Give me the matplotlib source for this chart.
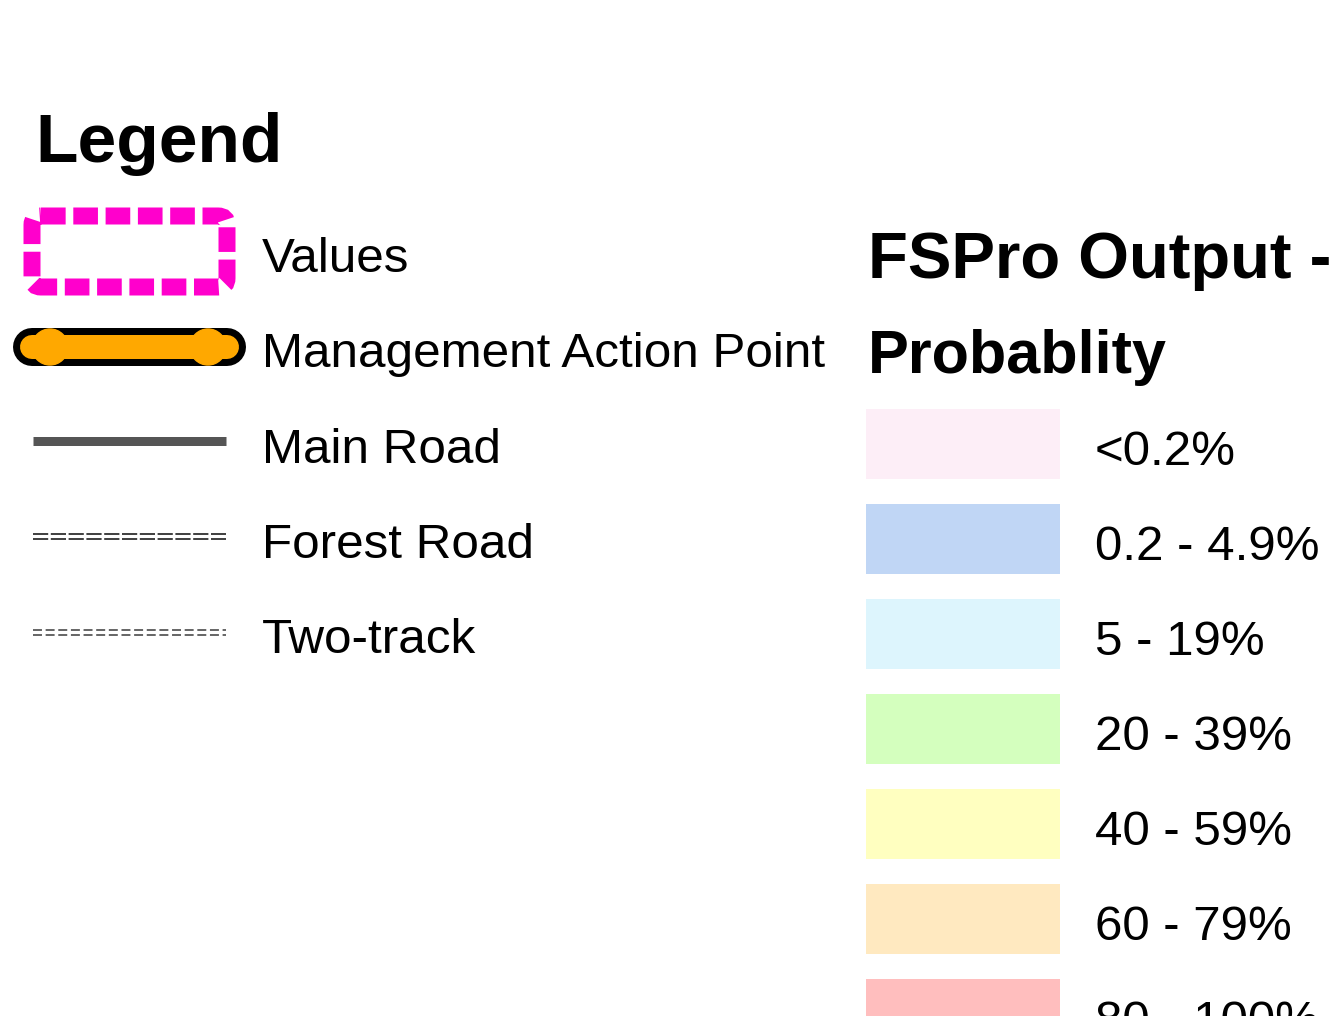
import matplotlib
matplotlib.use("Agg")
import matplotlib.pyplot as plt
from matplotlib.patches import FancyBboxPatch, Rectangle, Circle

plt.rcParams['font.family'] = ['Liberation Sans', 'DejaVu Sans']

legend_title = "Legend"
line_labels = ["Values", "Management Action Point", "Main Road", "Forest Road", "Two-track"]
prob_title = ["FSPro Output -", "Probablity"]
prob_labels = ["<0.2%", "0.2 - 4.9%", "5 - 19%", "20 - 39%", "40 - 59%", "60 - 79%", "80 - 100%"]
prob_colors = ["#FDEEF7", "#C0D6F5", "#DDF5FD", "#D4FFBE", "#FFFFC0", "#FFE9C0", "#FFBEBE"]

W, H = 1340, 1016
fig = plt.figure(figsize=(W / 100, H / 100), dpi=100)
ax = fig.add_axes([0, 0, 1, 1])
ax.set_xlim(0, W)
ax.set_ylim(H, 0)
ax.axis('off')
PT = 0.72  # px -> pt

ax.text(35, 162, legend_title, fontsize=50, fontweight='bold', ha='left', va='baseline')

# Left symbols
row_base = [272, 367, 463, 558, 653]
# Values: dashed rounded rectangle
box = FancyBboxPatch((32, 216), 195, 71, boxstyle="round,pad=0,rounding_size=9",
                     fill=False, edgecolor="#FF00CC", linewidth=17 * PT,
                     linestyle=(0, (1.45, 0.45)))
ax.add_patch(box)
# Management action point
ax.plot([32, 227], [347, 347], color='black', linewidth=38 * PT, solid_capstyle='round')
ax.plot([32, 227], [347, 347], color='#FFA800', linewidth=24 * PT, solid_capstyle='round')
for cx in [50, 208]:
    ax.add_patch(Circle((cx, 347), 18, color='#FFA800', zorder=3))
# Main road
ax.plot([33, 226], [441, 441], color='#555555', linewidth=9 * PT, solid_capstyle='butt')
# Forest road
for yy in [534, 539]:
    ax.plot([33, 226], [yy, yy], color='#444444', linewidth=2 * PT,
            linestyle=(0, (7.6, 1.3)), solid_capstyle='butt')
# Two-track
for yy in [630, 635]:
    ax.plot([33, 226], [yy, yy], color='#444444', linewidth=1.6 * PT,
            linestyle=(0, (5.6, 2.3)), solid_capstyle='butt')

for lab, y in zip(line_labels, row_base):
    ax.text(262, y, lab, fontsize=35.6, ha='left', va='baseline')

# Right: probability
ax.text(868, 278, prob_title[0], fontsize=47, fontweight='bold', ha='left', va='baseline')
ax.text(868, 373, prob_title[1], fontsize=44, fontweight='bold', ha='left', va='baseline')

for i, (lab, col) in enumerate(zip(prob_labels, prob_colors)):
    yc = 444 + 95 * i
    ax.add_patch(Rectangle((866, yc - 35), 194, 70, facecolor=col, edgecolor='none'))
    ax.text(1095, yc + 21, lab, fontsize=35.5, ha='left', va='baseline')

fig.savefig("out.png", dpi=100)
